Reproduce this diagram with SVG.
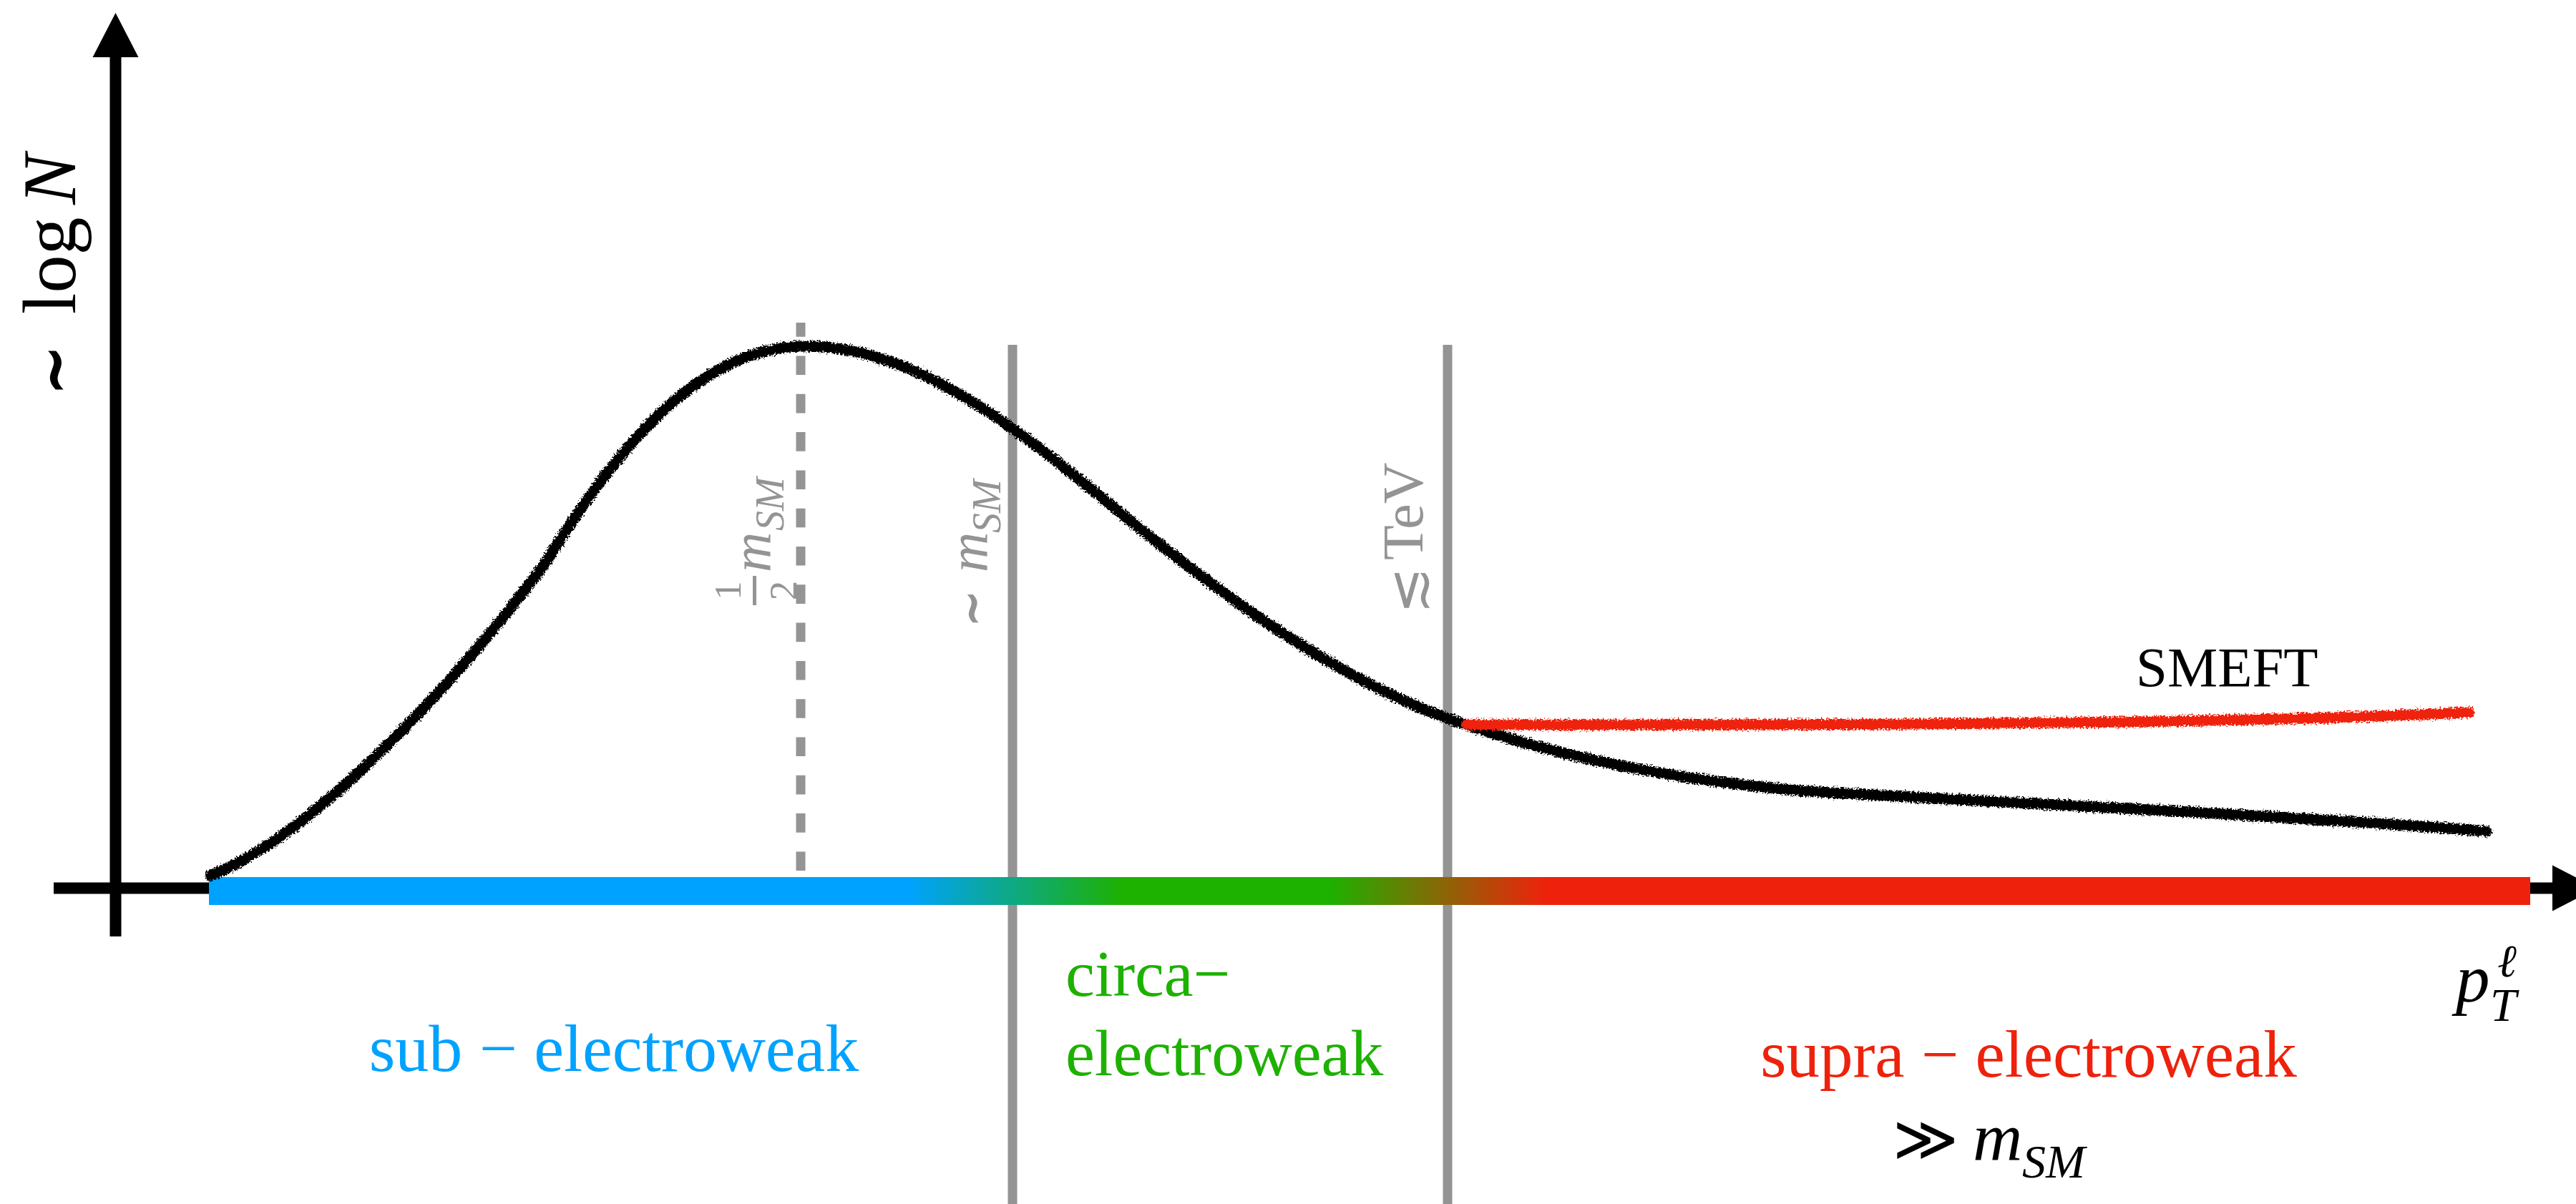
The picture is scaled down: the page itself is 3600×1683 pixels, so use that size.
<svg xmlns="http://www.w3.org/2000/svg" width="3600" height="1683" viewBox="0 0 3600 1683">
<style>
  text { font-family: 'Liberation Serif', 'DejaVu Serif', 'DejaVu Sans', serif; }
  .it { font-style: italic; }
  .sym { font-family: 'DejaVu Serif', 'DejaVu Sans', serif; font-style: normal; }
  .gray { fill: #949494; }
  .guide { stroke: #949494; stroke-width: 13; fill: none; }
  .axis { stroke: #000; stroke-width: 16; fill: none; }
  .rough { fill: none; stroke-linecap: round; stroke-linejoin: round; filter: url(#rough); }
</style>
<defs>
  <marker id="arrow" markerUnits="userSpaceOnUse" markerWidth="62" markerHeight="64" refX="0" refY="32" orient="auto" overflow="visible">
    <path d="M0,0 L62,32 L0,64 Z" fill="#000"/>
  </marker>
  <linearGradient id="barGrad" gradientUnits="userSpaceOnUse" x1="292" y1="0" x2="3536" y2="0">
    <stop offset="0" stop-color="#00A2FF"/>
    <stop offset="0.301" stop-color="#00A2FF"/>
    <stop offset="0.394" stop-color="#1DB100"/>
    <stop offset="0.483" stop-color="#1DB100"/>
    <stop offset="0.576" stop-color="#EE220C"/>
    <stop offset="1" stop-color="#EE220C"/>
  </linearGradient>
  <filter id="rough" filterUnits="userSpaceOnUse" x="0" y="0" width="3600" height="1683">
    <feTurbulence type="fractalNoise" baseFrequency="0.4" numOctaves="2" seed="4" result="noise"/>
    <feDisplacementMap in="SourceGraphic" in2="noise" scale="10" xChannelSelector="R" yChannelSelector="G"/>
  </filter>
</defs>
<rect width="3600" height="1683" fill="#fff"/>

<g id="guides">
  <path class="guide" d="M1119,1217 V451" stroke-dasharray="26.6 26.7"/>
  <path class="guide" d="M1415,482 V1683"/>
  <path class="guide" d="M2023,482 V1683"/>
</g>

<g id="axes">
  <path class="axis" d="M161.5,1309 V80" marker-end="url(#arrow)"/>
  <path class="axis" d="M75,1241.5 H3567" marker-end="url(#arrow)"/>
</g>

<g id="bar">
  <rect x="292" y="1226" width="3244" height="39" fill="url(#barGrad)"/>
</g>

<g id="connectors">
  <path id="sm-curve" class="rough" stroke="#000" stroke-width="15" d="M294,1224 C444,1164 640,950 760,790 C860,630 975,484 1125,484 C1275,484 1410,589 1560,712 C1710,835 1870,949 2020,1003 C2180,1061 2356,1092 2526,1106 C2830,1124 3200,1140 3475,1162"/>
  <path id="smeft-curve" class="rough" stroke="#EE220C" stroke-width="15" d="M2050,1013 C2700,1014 3150,1010 3451,996"/>
</g>

<g id="label-yaxis" transform="translate(105,551) rotate(-90)">
  <text font-size="106"><tspan class="sym" x="0" y="-2" font-size="80" stroke="#000" stroke-width="4">∼</tspan><tspan x="112" y="0">log</tspan><tspan class="it" x="265" y="0">N</tspan></text>
</g>

<g id="label-xaxis">
  <text font-size="95"><tspan class="it" x="3432" y="1400">p</tspan><tspan class="it" x="3490" y="1365" font-size="64">ℓ</tspan><tspan class="it" x="3480" y="1427" font-size="66">T</tspan></text>
</g>

<g id="label-half-msm" class="gray" transform="translate(1077,848) rotate(-90)">
  <rect x="2" y="-25" width="41" height="5"/>
  <text font-size="78"><tspan x="22.5" y="-42" font-size="53" text-anchor="middle">1</tspan><tspan x="22.5" y="36" font-size="55" text-anchor="middle">2</tspan><tspan class="it" x="48" y="0">m</tspan><tspan class="it" x="106" y="18" font-size="56">SM</tspan></text>
</g>

<g id="label-msm" class="gray" transform="translate(1380,875) rotate(-90)">
  <text font-size="78"><tspan class="sym" x="0" y="-2" font-size="58" stroke="#949494" stroke-width="3">∼</tspan><tspan class="it" x="75" y="0">m</tspan><tspan class="it" x="130" y="18" font-size="56">SM</tspan></text>
</g>

<g id="label-tev" class="gray" transform="translate(1988,858) rotate(-90)">
  <text font-size="80"><tspan class="sym" x="0" y="6" font-size="78">≲</tspan><tspan x="75" y="0">TeV</tspan></text>
</g>

<g id="label-smeft">
  <text x="2985" y="959" font-size="79">SMEFT</text>
</g>

<g id="label-sub">
  <text x="858" y="1497" font-size="94" text-anchor="middle" fill="#00A2FF">sub − electroweak</text>
</g>

<g id="label-circa" fill="#1DB100">
  <text font-size="92"><tspan x="1489" y="1392">circa−</tspan><tspan x="1489" y="1503">electroweak</tspan></text>
</g>

<g id="label-supra">
  <text x="2835" y="1505" font-size="93" text-anchor="middle" fill="#EE220C">supra − electroweak</text>
  <text font-size="96"><tspan class="sym" x="2645" y="1622" font-size="88">≫</tspan><tspan class="it" x="2757" y="1622">m</tspan><tspan class="it" x="2826" y="1646" font-size="66">SM</tspan></text>
</g>
</svg>
